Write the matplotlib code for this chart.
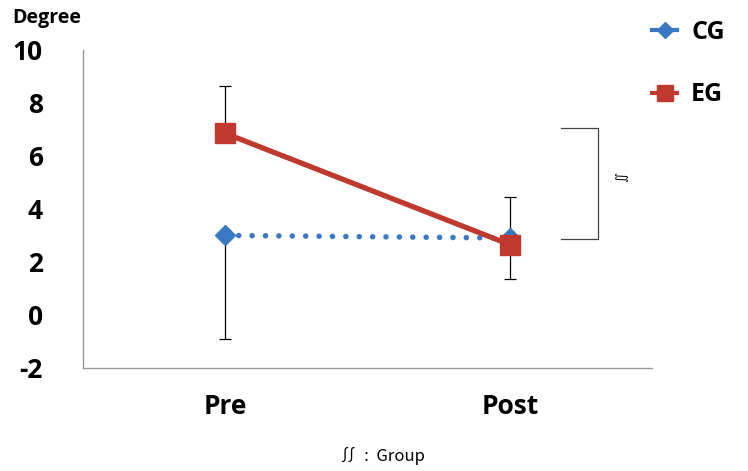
import numpy as np
import matplotlib.pyplot as plt
from matplotlib.lines import Line2D

# données
phases = ['Pre', 'Post']
cg = [3.0, 2.9]
eg = [6.85, 2.65]
# erreurs (basse, haute)
cg_err = [[3.9, 1.54], [0.0, 1.54]]
eg_err = [[0.0, 0.0], [1.8, 0.0]]
yticks = [-2, 0, 2, 4, 6, 8, 10]
# crochet de significativité
bracket_y = [7.05, 2.88]

blue = '#3b78c3'
red = '#c0392f'
font = 'Open Sans'

fig = plt.figure(figsize=(7.48, 4.71), dpi=100)
ax = fig.add_axes([0.111, 0.219, 0.761, 0.675])
x = np.arange(len(phases))

# barres d'erreur sous les marqueurs
ax.errorbar(x, cg, yerr=cg_err, fmt='none', ecolor='black', elinewidth=0.9,
            capsize=4, capthick=0.9, zorder=1)
ax.errorbar(x, eg, yerr=eg_err, fmt='none', ecolor='black', elinewidth=0.9,
            capsize=4, capthick=0.9, zorder=1)

ax.plot(x, cg, color=blue, ls=(0, (0.01, 2.4)), lw=4,
        dash_capstyle='round', marker='D', ms=10, zorder=3)
ax.plot(x, eg, color=red, lw=3.8, marker='s', ms=14, zorder=4)

# crochet
bx0, bx1 = 1.18, 1.31
ax.plot([bx0, bx1, bx1, bx0], [bracket_y[0], bracket_y[0], bracket_y[1], bracket_y[1]],
        color='#444444', lw=0.9, clip_on=False)
ax.text(1.385, 5.2, '∬', rotation=-90, ha='center', va='center', fontsize=9,
        family=['DejaVu Sans'], clip_on=False)

ax.set_xlim(-0.5, 1.5)
ax.set_ylim(-2, 10)
ax.set_yticks(yticks)
ax.set_yticklabels([str(v) for v in yticks], fontsize=19, fontweight='bold',
                   family=font)
ax.set_xticks(x)
ax.set_xticklabels(phases, fontsize=19, fontweight='bold', family=font)
ax.tick_params(length=0)
ax.tick_params(axis='y', pad=29)
ax.tick_params(axis='x', pad=18)
for s in ['top', 'right']:
    ax.spines[s].set_visible(False)
for s in ['left', 'bottom']:
    ax.spines[s].set_color('#999999')
    ax.spines[s].set_linewidth(1)

fig.text(0.016, 0.952, 'Degree', fontsize=14, fontweight='bold', family=font)

handles = [Line2D([], [], color=blue, lw=3, marker='D', ms=8),
           Line2D([], [], color=red, lw=3, marker='s', ms=11)]
fig.legend(handles, ['CG', 'EG'], loc='upper left', bbox_to_anchor=(0.872, 0.958),
           frameon=False, borderpad=0, borderaxespad=0,
           handlelength=1.0, labelspacing=1.5, handletextpad=0.55,
           prop={'family': font, 'weight': 'bold', 'size': 18})

fig.text(0.511, 0.022, '∬  :  Group', ha='center', fontsize=12,
         family=['Noto Sans CJK KR', 'DejaVu Sans'])

fig.savefig('out.png', dpi=100)
